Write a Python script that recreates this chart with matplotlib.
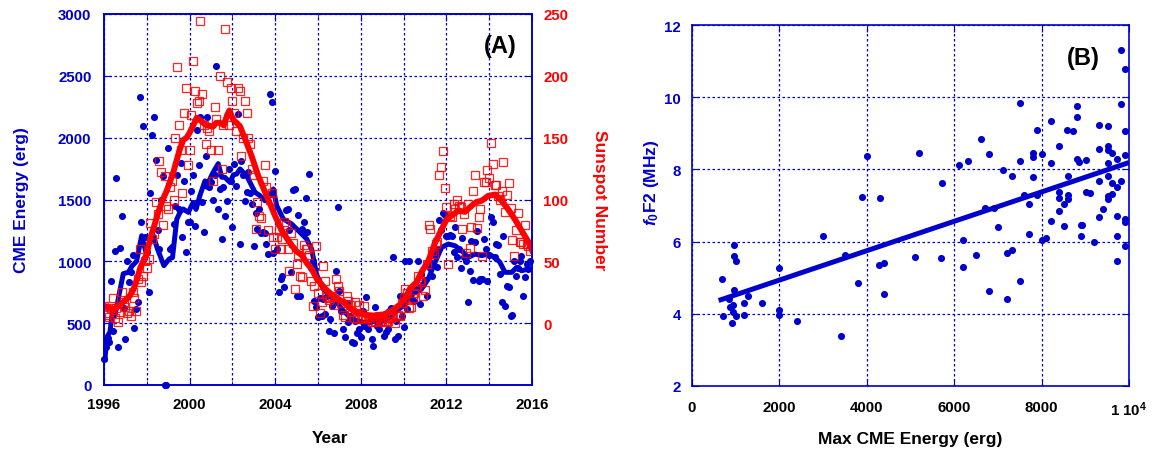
import numpy as np
import matplotlib
matplotlib.use('Agg')
import matplotlib.pyplot as plt
from matplotlib.ticker import MultipleLocator

plt.rcParams['font.family'] = ['Liberation Sans', 'DejaVu Sans']
plt.rcParams['font.weight'] = 'bold'
plt.rcParams['mathtext.fontset'] = 'custom'
plt.rcParams['mathtext.rm'] = 'Liberation Sans:bold'
plt.rcParams['mathtext.it'] = 'Liberation Sans:italic:bold'
plt.rcParams['mathtext.bf'] = 'Liberation Sans:bold'

BLUE = '#0000cc'
RED = '#ff0000'

# ---------------- panel A : monthly values 1996-2015 ----------------
years = list(range(1996, 2016))

# monthly sunspot number (right axis)
ssn_monthly = [
    14, 7, 8, 5, 12, 20, 4, 12, 1, 9, 25, 17,            # 1996
    13, 8, 10, 6, 25, 20, 10, 36, 60, 33, 38, 50,        # 1997
    45, 52, 81, 68, 72, 98, 88, 131, 122, 79, 119, 95,   # 1998
    92, 110, 115, 100, 150, 207, 160, 140, 105, 170, 190, 128,  # 1999
    140, 168, 212, 188, 178, 180, 244, 185, 160, 145, 158, 155, # 2000
    140, 115, 175, 165, 140, 200, 125, 160, 238, 195, 160, 190, # 2001
    180, 170, 155, 190, 188, 135, 150, 180, 170, 150, 145, 125, # 2002
    120, 76, 98, 87, 85, 115, 128, 110, 75, 100, 105, 70,   # 2003
    60, 70, 75, 60, 68, 82, 79, 60, 42, 73, 65, 28,      # 2004
    48, 55, 38, 37, 63, 60, 60, 55, 34, 14, 30, 62,      # 2005
    24, 8, 17, 46, 34, 21, 19, 20, 22, 15, 36, 30,       # 2006
    26, 16, 7, 5, 22, 18, 15, 9, 4, 17, 3, 15,           # 2007
    5, 3, 14, 4, 5, 5, 1, 1, 2, 4, 6, 1,                 # 2008
    2, 2, 1, 2, 4, 4, 5, 0, 6, 7, 6, 16,                 # 2009
    20, 28, 24, 12, 13, 20, 24, 30, 38, 35, 33, 22,      # 2010
    27, 48, 79, 76, 58, 56, 64, 66, 120, 126, 139, 109,  # 2011
    94, 48, 87, 86, 96, 92, 100, 95, 94, 76, 88, 57,     # 2012
    96, 61, 78, 107, 120, 77, 86, 92, 54, 114, 114, 124, # 2013
    117, 146, 129, 112, 112, 103, 100, 107, 130, 90, 104, 113,  # 2014
    93, 67, 54, 75, 89, 66, 66, 64, 79, 64, 62, 58,      # 2015
]

# monthly CME energy (left axis)
cme_monthly = [
    210, 310, 380, 345, 840, 440, 1080, 1670, 305, 1110, 1370, 620,
    372, 1005, 835, 910, 1051, 458, 614, 669, 2326, 1320, 2092, 1200,
    1075, 755, 1550, 2022, 2170, 1819, 1250, 1100, 1500, 1690, 0, 0,
    1914, 1100, 1113, 1300, 1450, 1700, 1420, 1795, 1200, 1650, 1078, 1315,
    1315, 1571, 1700, 1288, 2062, 1779, 2170, 1477, 1234, 1854, 2164, 1600,
    1640, 1500, 1700, 2582, 1423, 1585, 1181, 1600, 1369, 1490, 1750, 1650,
    1280, 1787, 1612, 2191, 1140, 1809, 1700, 1490, 1560, 1725, 1550, 1463,
    1121, 1391, 1261, 1420, 1226, 1234, 1226, 1140, 1059, 2353, 2288, 1065,
    1733, 1100, 755, 857, 879, 790, 1417, 1423, 1250, 916, 1579, 1585,
    722, 1375, 722, 1260, 1320, 1510, 1240, 1706, 950, 1000, 682, 628,
    547, 700, 560, 695, 574, 720, 440, 534, 640, 420, 924, 1437,
    763, 600, 453, 385, 660, 507, 560, 345, 337, 520, 420, 453,
    385, 600, 480, 709, 453, 520, 372, 318, 628, 480, 453, 520,
    560, 400, 426, 453, 600, 620, 1032, 372, 520, 399, 720, 560,
    467, 1005, 615, 1005, 700, 763, 680, 800, 1005, 655, 900, 820,
    850, 720, 1000, 950, 879, 1050, 1100, 951, 1337, 1250, 1390, 1375,
    1207, 1202, 1213, 1207, 1073, 1275, 1032, 1100, 950, 1186, 1032, 1000,
    669, 924, 1167, 851, 1159, 1248, 843, 860, 857, 1181, 1100, 843,
    1050, 1356, 1316, 1032, 1140, 1132, 900, 669, 1207, 636, 803, 790,
    555, 566, 1000, 880, 950, 1000, 1046, 722, 870, 978, 938, 1000,
]

# smoothed curves
cme_smooth_t = [1996.05, 1996.12, 1996.28, 1996.4, 1996.51, 1996.67, 1996.9, 1997.14, 1997.3,
                1997.52, 1997.76, 1997.95, 1998.1, 1998.3, 1998.5, 1998.8, 1999.05, 1999.2,
                1999.4, 1999.55, 1999.7, 1999.94, 2000.17, 2000.3, 2000.48, 2000.56, 2000.72,
                2000.8, 2000.95, 2001.1, 2001.34, 2001.5, 2001.65, 2001.88, 2002.05, 2002.2,
                2002.36, 2002.5, 2002.67, 2002.82, 2003.06, 2003.29, 2003.52, 2003.76, 2003.91,
                2004.07, 2004.38, 2004.77, 2005.16, 2005.47, 2005.7, 2005.94, 2006.25, 2006.56,
                2006.87, 2007.18, 2007.5, 2007.81, 2008.12, 2008.43, 2008.75, 2009.06, 2009.36,
                2009.67, 2009.99, 2010.3, 2010.55, 2010.84, 2011.15, 2011.47, 2011.78, 2012.09,
                2012.4, 2012.71, 2013.02, 2013.34, 2013.65, 2013.96, 2014.27, 2014.5, 2014.74,
                2015.05, 2015.28, 2015.51, 2015.82, 2016.0]
cme_smooth_v = [210, 380, 430, 600, 560, 700, 900, 911, 960,
                1000, 1207, 1080, 1140, 1210, 1100, 965, 1020, 1030,
                1340, 1396, 1423, 1396, 1477, 1420, 1531, 1571, 1650,
                1600, 1666, 1720, 1790, 1680, 1679, 1639, 1700, 1706,
                1747, 1720, 1692, 1639, 1558, 1531, 1490, 1531, 1585,
                1450, 1342, 1302, 1234, 1181, 1100, 890, 776, 722,
                669, 601, 547, 520, 507, 507, 520, 520, 547,
                601, 641, 722, 750, 776, 857, 992, 1113, 1140,
                1126, 1086, 1032, 1059, 1046, 1059, 1032, 992, 911,
                911, 951, 924, 938, 938]

ssn_smooth_t = [1996.0, 1996.2, 1996.44, 1996.7, 1996.9, 1997.2, 1997.37, 1997.55, 1997.7,
                1998.0, 1998.15, 1998.3, 1998.54, 1998.75, 1998.93, 1999.1, 1999.24, 1999.4,
                1999.55, 1999.7, 1999.86, 2000.0, 2000.17, 2000.33, 2000.5, 2000.64, 2000.8,
                2001.1, 2001.25, 2001.42, 2001.6, 2001.75, 2001.86, 2002.05, 2002.2, 2002.36,
                2002.59, 2002.9, 2003.21, 2003.6, 2003.99, 2004.3, 2004.53, 2004.77, 2005.0,
                2005.24, 2005.5, 2005.7, 2005.94, 2006.33, 2006.71, 2007.18, 2007.65, 2008.12,
                2008.58, 2009.06, 2009.44, 2009.83, 2010.1, 2010.3, 2010.6, 2010.86, 2011.15,
                2011.47, 2011.78, 2012.01, 2012.25, 2012.56, 2012.87, 2013.18, 2013.41, 2013.65,
                2013.96, 2014.27, 2014.58, 2014.89, 2015.2, 2015.51, 2015.82, 2016.0]
ssn_smooth_v = [14, 13, 11, 14, 17, 22, 27, 36, 45,
                56, 68, 76, 90, 100, 107, 115, 122, 132,
                141, 148, 150, 154, 160, 166, 164, 162, 160,
                159, 162, 162, 160, 168, 172, 164, 162, 159,
                149, 135, 119, 103, 87, 75, 69, 63, 58,
                55, 48, 44, 36, 28, 22, 17, 10, 7,
                6, 7, 10, 15, 21, 28, 33, 42, 50,
                65, 76, 84, 87, 91, 90, 95, 98, 99,
                103, 104, 99, 92, 84, 75, 66, 59]

# ---------------- panel B : foF2 vs max CME energy ----------------
max_energy = [679, 702, 968, 961, 999, 961, 854, 870, 946, 931, 999, 923, 1198, 1198, 1289,
              1594, 1998, 1998, 1998, 2395, 3005, 3402, 3501, 3806, 3897, 4012, 4287, 4401,
              4401, 4302, 5103, 5202, 5698, 5714, 6110, 6209, 6209, 6308, 6506, 6606, 6705,
              6804, 6804, 6918, 7010, 7109, 7201, 7201, 7315, 7315, 7506, 7506, 7506, 7605,
              7712, 7712, 7810, 7810, 7810, 7902, 7902, 8002, 8016, 8101, 8215, 8215, 8215,
              8406, 8406, 8406, 8406, 8513, 8513, 8589, 8611, 8611, 8611, 8712, 8803, 8803,
              8803, 8850, 8902, 8902, 8918, 9009, 9009, 9108, 9206, 9314, 9314, 9314, 9314,
              9413, 9512, 9512, 9512, 9512, 9512, 9512, 9512, 9604, 9618, 9618, 9719, 9719,
              9719, 9719, 9719, 9810, 9810, 9810, 9908, 9908, 9908, 9908, 9908, 9908]
fof2 = [4.96, 3.95, 5.91, 5.59, 5.45, 4.66, 4.41, 4.18, 4.24, 4.06, 3.95, 3.74, 4.30, 3.97, 4.48,
        4.30, 5.26, 4.11, 3.98, 3.81, 6.15, 3.39, 5.64, 4.84, 7.24, 8.36, 5.35, 5.41,
        4.55, 7.21, 5.58, 8.46, 5.55, 7.61, 8.12, 6.05, 5.30, 8.23, 5.63, 8.84, 6.93,
        8.43, 4.63, 6.93, 6.40, 7.99, 5.68, 4.40, 5.78, 7.83, 9.85, 8.22, 4.90, 7.30,
        7.04, 6.21, 8.45, 8.33, 7.78, 9.09, 7.30, 6.05, 8.43, 6.10, 9.35, 8.17, 6.56,
        8.64, 7.38, 7.22, 6.84, 7.05, 6.42, 9.09, 7.83, 7.28, 7.19, 9.07, 9.76, 9.46,
        8.29, 8.20, 6.46, 6.15, 6.47, 8.27, 7.37, 7.34, 5.98, 9.24, 8.57, 7.69, 6.67,
        6.90, 9.20, 8.64, 8.53, 8.19, 7.83, 7.26, 7.18, 7.61, 8.45, 7.32, 8.29, 7.50,
        6.70, 6.15, 5.47, 11.32, 9.82, 7.69, 10.78, 9.06, 8.41, 6.63, 6.55, 5.89]
fit_x = [664, 9950]
fit_y = [4.39, 8.17]


def style_axis(ax):
    for sp in ax.spines.values():
        sp.set_color(BLUE)
        sp.set_linewidth(1.2)
    ax.grid(True, which='both', color=BLUE, linestyle=(0, (2, 2)), linewidth=0.9)
    ax.set_axisbelow(True)


month_t = np.array([y + m / 12. for y in years for m in range(12)])

fig = plt.figure(figsize=(11.52, 4.52), dpi=100)

# ================= panel A =================
axA = fig.add_axes([104 / 1152, 1 - 386 / 452, 428 / 1152, 371 / 452])
style_axis(axA)
axA.set_xlim(1996, 2016)
axA.set_ylim(0, 3000)
axA.xaxis.set_major_locator(MultipleLocator(4))
axA.xaxis.set_minor_locator(MultipleLocator(2))
axA.yaxis.set_major_locator(MultipleLocator(500))
axA.tick_params(axis='both', which='both', direction='in', color=BLUE, top=True)
axA.tick_params(axis='x', which='major', labelsize=10.8, labelcolor='black', pad=9, length=5)
axA.tick_params(axis='x', which='minor', length=3)
axA.tick_params(axis='y', labelsize=10.8, labelcolor=BLUE, pad=9, length=5)

axA.scatter(month_t, cme_monthly, s=26, color=BLUE, linewidths=0, zorder=3, clip_on=False)
axA.plot(cme_smooth_t, cme_smooth_v, color=BLUE, lw=3.6, zorder=4)

axA.set_xlabel('Year', fontsize=12.5, fontweight='bold', color='black')
axA.xaxis.set_label_coords(0.528, -0.122)
axA.set_ylabel('CME Energy (erg)', fontsize=12.5, fontweight='bold', color=BLUE)
axA.yaxis.set_label_coords(-0.175, 0.5)
axA.text(0.925, 0.914, '(A)', transform=axA.transAxes, fontsize=17, fontweight='bold',
         ha='center', va='center', zorder=6)

axR = axA.twinx()
axR.set_ylim(-50, 250)
axR.set_yticks(range(0, 251, 50))
axR.tick_params(axis='y', direction='in', color=BLUE, labelcolor=RED, labelsize=10.8, pad=8, length=5)
for sp in axR.spines.values():
    sp.set_color(BLUE)
    sp.set_linewidth(1.2)
axR.plot(month_t, ssn_monthly, 's', mfc='none', mec=RED, ms=5.8, mew=0.9, alpha=0.85)
axR.plot(ssn_smooth_t, ssn_smooth_v, color=RED, lw=4.3)
axR.set_ylabel('Sunspot Number', fontsize=12.5, fontweight='bold', color=RED, rotation=270)
axR.yaxis.set_label_coords(1.175, 0.5)

# ================= panel B =================
axB = fig.add_axes([692 / 1152, 1 - 387 / 452, 437 / 1152, 361 / 452])
style_axis(axB)
axB.set_xlim(0, 10000)
axB.set_ylim(2, 12)
axB.set_xticks(range(0, 10001, 2000))
axB.set_xticklabels(['0', '2000', '4000', '6000', '8000', r'1 10$^{4}$'])
axB.set_yticks(range(2, 13, 2))
axB.tick_params(axis='both', direction='in', color=BLUE, top=True, right=True, length=5)
axB.tick_params(axis='x', labelsize=10.8, labelcolor='black', pad=10)
axB.tick_params(axis='y', labelsize=10.8, labelcolor=BLUE, pad=8)

axB.scatter(max_energy, fof2, s=26, color=BLUE, linewidths=0, zorder=3, clip_on=False)
axB.plot(fit_x, fit_y, color=BLUE, lw=3.6, zorder=4)

axB.set_xlabel('Max CME Energy (erg)', fontsize=12.5, fontweight='bold', color='black')
axB.xaxis.set_label_coords(0.5, -0.125)
axB.set_ylabel(r'$f_0$F2 (MHz)', fontsize=12.5, fontweight='bold', color=BLUE)
axB.yaxis.set_label_coords(-0.07, 0.565)
axB.text(0.895, 0.909, '(B)', transform=axB.transAxes, fontsize=17, fontweight='bold',
         ha='center', va='center')

fig.savefig('out.png', dpi=100)
